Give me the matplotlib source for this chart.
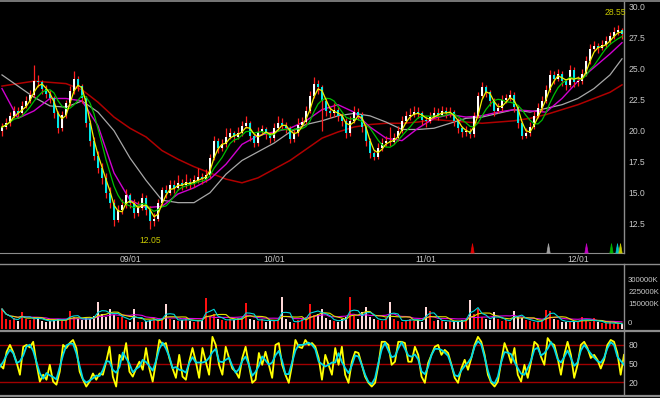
import numpy as np
import pandas as pd
import matplotlib
matplotlib.use('Agg')
import matplotlib.pyplot as plt
from matplotlib.lines import Line2D

plt.rcParams['font.family'] = ['Liberation Sans', 'DejaVu Sans']

# price bars (open of a bar = close of the bar before)
first_open = 20.0
closes = [20.3, 20.6, 21.2, 21.6, 21.4, 22.0, 22.4, 22.9, 24.0, 23.9,
          23.4, 23.0, 22.6, 21.4, 20.2, 21.3, 22.2, 23.2, 24.2, 23.6,
          22.6, 20.6, 19.2, 18.0, 17.0, 16.2, 15.0, 14.2, 12.8, 13.6,
          14.0, 14.8, 14.2, 13.4, 13.8, 14.6, 13.6, 12.7, 12.9, 14.2,
          15.2, 15.0, 15.6, 15.4, 15.8, 15.6, 15.9, 15.7, 16.0, 16.3,
          16.1, 16.4, 17.8, 19.2, 18.6, 18.9, 19.5, 19.8, 19.5, 19.8,
          20.4, 20.6, 19.6, 19.0, 19.9, 20.1, 19.7, 19.4, 20.2, 20.6,
          20.5, 20.2, 19.3, 19.8, 20.5, 20.7, 21.6, 22.8, 23.8, 23.5,
          22.4, 21.6, 21.4, 21.7, 21.2, 20.8, 19.8, 20.8, 21.5, 21.3,
          20.3, 19.2, 18.2, 17.9, 18.6, 19.0, 19.2, 19.1, 19.4, 20.0,
          20.8, 21.2, 21.3, 21.5, 21.4, 20.9, 20.8, 21.1, 21.4, 21.3,
          21.6, 21.4, 21.5, 20.8, 20.2, 19.9, 20.0, 19.7, 21.2, 22.8,
          23.5, 23.1, 22.4, 21.6, 21.8, 22.5, 22.6, 22.9, 21.9, 20.6,
          19.6, 19.8, 20.3, 21.2, 21.8, 22.4, 23.3, 24.5, 24.2, 24.6,
          24.0, 23.7, 24.9, 23.9, 24.0, 24.6, 25.6, 26.6, 26.8, 26.7,
          26.9, 27.2, 27.6, 28.0, 28.1, 27.8]
highs = [20.6, 21.0, 21.5, 22.0, 21.9, 22.4, 22.8, 23.3, 25.3, 24.5,
         24.1, 23.7, 23.3, 22.8, 21.6, 21.6, 22.5, 23.6, 24.8, 24.4,
         23.8, 22.8, 20.9, 19.5, 18.4, 17.4, 16.6, 15.5, 14.5, 14.0,
         14.5, 15.3, 15.0, 14.5, 14.3, 15.0, 14.8, 13.9, 13.4, 14.5,
         15.5, 15.6, 16.0, 16.0, 16.4, 16.1, 16.5, 16.2, 16.4, 17.0,
         16.6, 16.9, 18.1, 19.6, 19.4, 19.3, 20.2, 20.2, 20.0, 20.3,
         20.8, 21.2, 20.8, 19.8, 20.3, 20.5, 20.3, 19.9, 20.6, 21.2,
         21.0, 20.7, 20.4, 20.2, 21.0, 21.1, 22.0, 23.2, 24.3, 24.1,
         23.7, 22.6, 21.9, 22.2, 21.9, 21.4, 21.0, 21.2, 22.0, 21.8,
         21.5, 20.5, 19.4, 18.4, 19.0, 19.4, 19.6, 20.3, 19.8, 20.4,
         21.2, 21.6, 21.8, 22.0, 21.9, 21.6, 21.2, 21.5, 21.9, 21.8,
         22.0, 21.9, 21.9, 21.7, 21.0, 20.4, 20.4, 20.2, 21.5, 23.1,
         23.9, 23.7, 23.3, 22.6, 22.2, 22.9, 23.0, 23.3, 23.1, 22.1,
         20.8, 20.2, 20.7, 21.6, 22.2, 22.8, 23.7, 24.9, 24.8, 25.0,
         24.8, 24.2, 25.3, 25.1, 24.4, 25.0, 26.0, 27.0, 27.2, 27.1,
         27.3, 27.6, 28.0, 28.4, 28.55, 28.3]
lows = [19.6, 20.1, 20.4, 21.0, 21.0, 21.2, 21.8, 22.2, 22.7, 23.5,
        23.0, 22.6, 22.2, 21.0, 19.8, 20.0, 21.0, 22.0, 23.0, 23.2,
        22.2, 20.3, 18.8, 17.6, 16.6, 15.7, 14.6, 13.8, 12.3, 12.6,
        13.3, 13.8, 13.8, 13.0, 13.1, 13.6, 13.2, 12.05, 12.3, 12.7,
        14.0, 14.6, 14.8, 15.0, 15.2, 15.2, 15.4, 15.3, 15.5, 15.8,
        15.7, 15.9, 16.2, 17.6, 18.2, 18.4, 18.7, 19.3, 19.1, 19.3,
        19.6, 20.2, 19.2, 18.7, 18.8, 19.7, 19.3, 19.0, 19.2, 20.0,
        20.1, 19.8, 19.0, 19.1, 19.6, 20.3, 20.5, 21.4, 22.6, 23.0,
        20.0, 21.2, 21.0, 21.1, 20.8, 20.4, 19.4, 19.6, 20.6, 20.9,
        19.9, 18.8, 17.8, 17.6, 17.7, 18.4, 18.8, 18.8, 18.9, 19.2,
        19.8, 20.6, 20.9, 21.1, 21.0, 20.5, 20.3, 20.6, 21.0, 20.9,
        21.2, 21.0, 21.1, 20.4, 19.8, 19.5, 19.6, 19.4, 19.5, 21.0,
        22.6, 22.7, 22.0, 21.2, 21.4, 21.6, 22.2, 22.4, 21.5, 20.2,
        19.3, 19.4, 19.6, 20.1, 21.0, 21.6, 22.2, 23.1, 23.8, 24.0,
        23.6, 23.3, 23.5, 23.5, 23.6, 23.8, 24.4, 25.4, 26.4, 26.3,
        26.5, 26.7, 27.0, 27.4, 27.7, 27.4]

# volume in K
volumes = [120000, 60000, 55000, 65000, 50000, 105000, 60000, 55000, 70000, 65000,
           50000, 45000, 50000, 55000, 60000, 50000, 55000, 110000, 70000, 60000,
           55000, 65000, 60000, 80000, 160000, 90000, 75000, 120000, 85000, 75000,
           70000, 55000, 45000, 120000, 40000, 45000, 50000, 55000, 60000, 50000,
           65000, 150000, 60000, 55000, 50000, 55000, 60000, 50000, 45000, 50000,
           55000, 185000, 80000, 90000, 60000, 55000, 50000, 60000, 55000, 65000,
           70000, 155000, 60000, 55000, 50000, 60000, 45000, 50000, 55000, 50000,
           190000, 60000, 40000, 35000, 55000, 65000, 70000, 150000, 85000, 90000,
           120000, 65000, 55000, 50000, 45000, 60000, 70000, 190000, 80000, 60000,
           100000, 130000, 70000, 60000, 55000, 50000, 65000, 160000, 60000, 50000,
           45000, 55000, 60000, 50000, 55000, 45000, 130000, 110000, 50000, 55000,
           50000, 45000, 50000, 40000, 45000, 55000, 60000, 175000, 90000, 120000,
           70000, 60000, 55000, 100000, 60000, 50000, 55000, 45000, 110000, 75000,
           65000, 55000, 50000, 45000, 40000, 55000, 115000, 110000, 60000, 55000,
           45000, 40000, 50000, 45000, 40000, 75000, 50000, 40000, 65000, 40000,
           35000, 35000, 40000, 30000, 35000, 30000]

# long moving averages, read every 4 bars (they carry history from before the window)
ma_mid = [23.4, 21.0, 21.6, 22.6, 22.6, 22.4, 20.4, 16.6, 14.4, 13.8,
          13.9, 14.9, 15.4, 16.1, 17.3, 18.9, 19.6, 19.9, 20.2, 20.8,
          21.7, 22.1, 21.5, 20.3, 19.4, 19.2, 20.2, 21.0, 21.3, 21.1,
          21.2, 21.5, 21.7, 21.6, 21.5, 22.6, 24.0, 25.1, 26.2, 27.1]
ma_slow = [24.5, 23.6, 22.7, 22.0, 21.9, 22.4, 21.5, 20.0, 17.8, 16.0,
           14.4, 14.2, 14.2, 15.0, 16.5, 17.6, 18.3, 19.0, 19.9, 20.5,
           20.8, 21.2, 21.4, 21.2, 20.7, 20.1, 20.1, 20.2, 20.6, 21.0,
           21.1, 21.4, 21.7, 21.5, 21.8, 22.1, 22.6, 23.4, 24.5, 25.8]
ma_long = [23.6, 23.8, 24.0, 23.9, 23.8, 23.3, 22.3, 21.1, 20.2, 19.5,
           18.4, 17.7, 17.1, 16.6, 16.1, 15.8, 16.2, 16.9, 17.6, 18.5,
           19.4, 19.9, 20.3, 20.5, 20.6, 20.6, 20.7, 20.9, 20.8, 20.7,
           20.6, 20.7, 20.8, 21.0, 21.3, 21.7, 22.1, 22.6, 23.1, 23.7]

# stochastic %K
stoch_k = [48, 42, 69, 80, 68, 52, 32, 77, 80, 76, 85, 50, 21, 32, 24, 48, 21,
           16, 37, 80, 75, 83, 88, 75, 37, 24, 13, 21, 34, 24, 34, 32, 53, 77,
           29, 13, 64, 56, 83, 37, 29, 42, 53, 40, 75, 42, 21, 53, 88, 80, 83,
           59, 42, 27, 64, 29, 24, 53, 75, 53, 27, 75, 53, 32, 93, 80, 48, 32,
           77, 59, 42, 37, 27, 59, 77, 48, 19, 24, 67, 48, 69, 48, 27, 80, 83,
           48, 32, 19, 48, 88, 77, 75, 88, 80, 83, 77, 59, 24, 64, 48,
           32, 75, 48, 77, 32, 19, 53, 69, 67, 48, 29, 19, 13, 19, 48, 85, 85,
           80, 48, 53, 85, 85, 83, 53, 53, 77, 64, 29, 19, 51, 64, 77, 80, 64,
           72, 67, 48, 27, 19, 42, 56, 40, 59, 80, 93, 85, 64, 32, 19, 13, 21,
           53, 83, 69, 51, 75, 32, 21, 48, 27, 53, 85, 80, 61, 48, 91, 83, 80,
           59, 32, 64, 85, 64, 27, 48, 80, 85, 75, 59, 64, 56, 42, 56, 80, 88,
           85, 67, 32, 64]

date_labels = ['09/01', '10/01', '11/01', '12/01']
date_bars = [32, 68, 106, 144]

signal_bars = [117.5, 136.5, 146.0, 152.3, 153.8, 154.5]
signal_colors = ['#e00000', '#a0a0a0', '#c000c0', '#00b000', '#00c8c8', '#c8c800']

n = len(closes)
x = np.arange(n)
opens = np.array([first_open] + closes[:-1])
closes = np.array(closes)
up = closes >= opens

grid = '#8c8c8c'
txt = '#c8c8c8'

fig = plt.figure(figsize=(6.6, 3.98), dpi=100, facecolor='black')
W, H = 660.0, 398.0
ax = fig.add_axes([0, 1 - 253 / H, 624 / W, 251 / H], facecolor='black')
axv = fig.add_axes([0, 1 - 330 / H, 624 / W, 66 / H], facecolor='black')
axs = fig.add_axes([0, 1 - 394 / H, 624 / W, 63 / H], facecolor='black')

# candles
ax.vlines(x, lows, highs, color='#ff2020', lw=0.9, zorder=2)
body = np.where(np.abs(closes - opens) < 0.08, 0.08, closes - opens)
ax.bar(x, body, bottom=opens, width=0.62,
       color=np.where(up, '#ffffff', '#00e8e8'), lw=0, zorder=3)

# moving averages
s = pd.Series(closes)
ma_bars = list(range(0, n, 4)) + [n - 1]
ax.plot(ma_bars, ma_long, color='#b00000', lw=1.1, zorder=1)
ax.plot(ma_bars, ma_slow, color='#a8a8a8', lw=0.9, zorder=1)
ax.plot(ma_bars, ma_mid, color='#d000d0', lw=1.0, zorder=1)
ax.plot(x, s.rolling(6, min_periods=1).mean(), color='#00c000', lw=0.9, zorder=4)
ax.plot(x, s.rolling(3, min_periods=1).mean(), color='#f0f000', lw=0.9, zorder=4)

# signals along the bottom
for b, c in zip(signal_bars, signal_colors):
    ax.plot(b, 10.58, marker=[(-0.35, -1), (0, 1), (0.35, -1)], ms=7,
            color=c, mec=c, mew=0.5, zorder=5)

# high / low labels
hi_i = int(np.argmax(highs))
lo_i = int(np.argmin(lows))
ax.annotate(f'{highs[hi_i]:.2f}', (hi_i, highs[hi_i]), xytext=(-2, 9),
            textcoords='offset points', ha='center', va='center',
            color='#c8c800', fontsize=6.2)
ax.annotate(f'{lows[lo_i]:.2f}', (lo_i, lows[lo_i]), xytext=(0.5, -8),
            textcoords='offset points', ha='center', va='center',
            color='#c8c800', fontsize=6.2)

ax.set_xlim(-0.5, n - 0.5)
ax.set_ylim(10.14, 30.38)
ax.yaxis.tick_right()
ax.set_yticks([12.5, 15.0, 17.5, 20.0, 22.5, 25.0, 27.5, 30.0])
ax.set_yticklabels(['12.5', '15.0', '17.5', '20.0', '22.5', '25.0', '27.5', '30.0'])
ax.set_xticks(date_bars)
ax.set_xticklabels(date_labels)
ax.tick_params(length=0, labelsize=6.2, colors=txt, pad=3)
ax.tick_params(axis='x', pad=1.5)

# volume
vol = pd.Series(volumes)
axv.bar(x, volumes, width=0.72, color=np.where(up, '#ff1010', '#ffd8d8'), lw=0)
axv.plot(x, vol.rolling(12, min_periods=1).mean(), color='#e000e0', lw=0.8)
axv.plot(x, vol.rolling(6, min_periods=1).mean(), color='#e0e000', lw=0.8)
axv.plot(x, vol.rolling(3, min_periods=1).mean(), color='#00d8d8', lw=0.8)
axv.set_xlim(-0.5, n - 0.5)
axv.set_ylim(-6000, 390000)
axv.yaxis.tick_right()
axv.set_yticks([150000, 225000, 300000])
axv.set_yticklabels(['150000K', '225000K', '300000K'])
axv.set_xticks([])
axv.tick_params(length=0, labelsize=5.6, colors=txt, pad=3)
axv.text(1.006, 0.04, '0', transform=axv.transAxes, color=txt, fontsize=5.6,
         ha='left', va='bottom')

# stochastic
xs = np.linspace(-0.5, n - 0.5, len(stoch_k))
k = pd.Series(stoch_k)
for lv in [20, 50, 80]:
    axs.axhline(lv, color='#a00000', lw=1.0, zorder=1)
axs.plot(xs, k, color='#ffff00', lw=1.3, zorder=2)
axs.plot(xs, k.rolling(3, min_periods=1, center=True).mean(),
         color='#00d8e8', lw=1.3, zorder=3)
axs.set_xlim(-0.5, n - 0.5)
axs.set_ylim(1, 102.4)
axs.yaxis.tick_right()
axs.set_yticks([20, 50, 80])
axs.set_xticks([])
axs.tick_params(length=0, labelsize=6.2, colors=txt, pad=3)

for a in (ax, axv, axs):
    for side in ('left', 'top', 'bottom'):
        a.spines[side].set_visible(False)
    a.spines['right'].set_color(grid)
    a.spines['right'].set_linewidth(1.0)
ax.spines['bottom'].set_visible(True)
ax.spines['bottom'].set_color(grid)

# full-width separators
for py, lw in [(1, 1.2), (263.5, 1.0), (330.5, 1.6), (395.5, 1.6)]:
    fig.add_artist(Line2D([0, 1], [1 - py / H, 1 - py / H], color=grid, lw=lw,
                          transform=fig.transFigure))

fig.savefig('out.png', dpi=100, facecolor='black')
